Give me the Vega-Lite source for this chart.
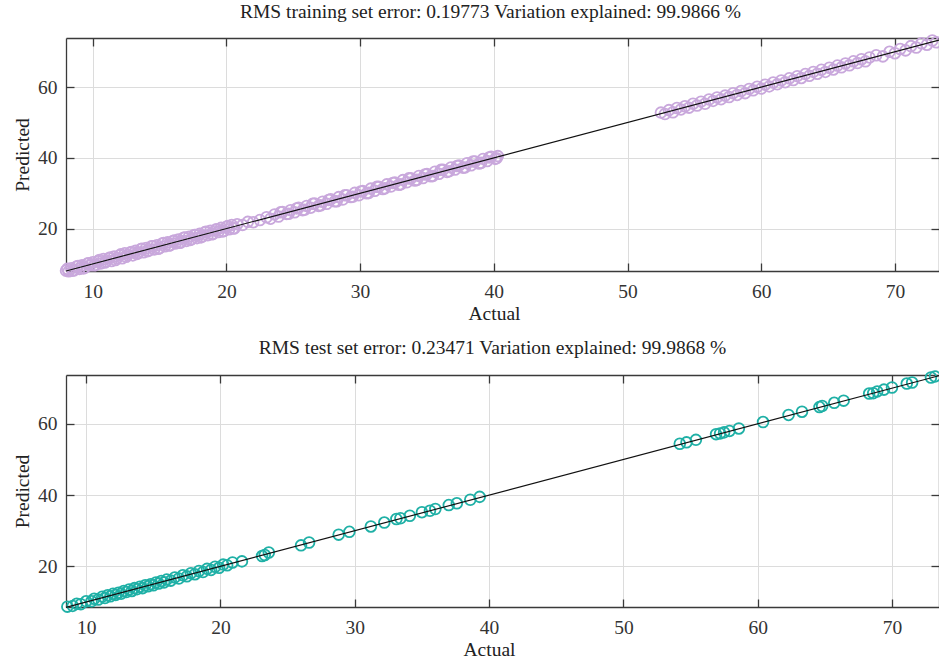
{
  "$schema": "https://vega.github.io/schema/vega-lite/v6.json",
  "autosize": {"type": "pad"},
  "padding": {"left": 12, "top": 2, "right": 0, "bottom": 0},
  "background": "white",
  "config": {
    "view": {"stroke": null},
    "font": "Liberation Serif",
    "axis": {
      "labelFont": "Liberation Serif",
      "labelFontSize": 19.5,
      "labelColor": "#333333",
      "titleFont": "Liberation Serif",
      "titleFontSize": 19.5,
      "titleFontWeight": "normal",
      "titleColor": "#222222",
      "domainColor": "#3a3a3a",
      "domainWidth": 1.3,
      "tickColor": "#3a3a3a",
      "tickWidth": 1.3,
      "tickSize": -8,
      "gridColor": "#dcdcdc",
      "gridWidth": 1
    },
    "title": {
      "font": "Liberation Serif",
      "fontSize": 19.5,
      "fontWeight": "normal",
      "color": "#222222",
      "anchor": "middle",
      "frame": "group",
      "offset": 9
    }
  },
  "datasets": {
    "train": [
      {"actual": 8.0, "predicted": 8.1}, {"actual": 8.2, "predicted": 7.9}, {"actual": 8.4, "predicted": 8.8},
      {"actual": 8.6, "predicted": 8.2}, {"actual": 8.8, "predicted": 9.3}, {"actual": 9.0, "predicted": 8.6},
      {"actual": 9.2, "predicted": 9.6}, {"actual": 9.4, "predicted": 8.9}, {"actual": 9.6, "predicted": 10.1},
      {"actual": 9.8, "predicted": 9.6}, {"actual": 10.0, "predicted": 10.5}, {"actual": 10.2, "predicted": 9.7},
      {"actual": 10.4, "predicted": 10.8}, {"actual": 10.6, "predicted": 10.1}, {"actual": 10.8, "predicted": 11.4},
      {"actual": 11.0, "predicted": 10.7}, {"actual": 11.2, "predicted": 11.6}, {"actual": 11.4, "predicted": 10.8},
      {"actual": 11.6, "predicted": 12.1}, {"actual": 11.8, "predicted": 11.6}, {"actual": 12.0, "predicted": 12.4},
      {"actual": 12.2, "predicted": 11.6}, {"actual": 12.4, "predicted": 13.0}, {"actual": 12.6, "predicted": 12.5},
      {"actual": 12.8, "predicted": 13.2}, {"actual": 13.0, "predicted": 12.4}, {"actual": 13.2, "predicted": 13.7},
      {"actual": 13.4, "predicted": 13.1}, {"actual": 13.6, "predicted": 14.2}, {"actual": 13.8, "predicted": 13.3},
      {"actual": 14.0, "predicted": 14.5}, {"actual": 14.2, "predicted": 13.8}, {"actual": 14.4, "predicted": 15.0},
      {"actual": 14.6, "predicted": 14.1}, {"actual": 14.8, "predicted": 15.3}, {"actual": 15.0, "predicted": 14.5},
      {"actual": 15.2, "predicted": 15.8}, {"actual": 15.4, "predicted": 15.0}, {"actual": 15.6, "predicted": 16.1},
      {"actual": 15.8, "predicted": 15.3}, {"actual": 16.0, "predicted": 16.5}, {"actual": 16.2, "predicted": 15.8},
      {"actual": 16.4, "predicted": 16.9}, {"actual": 16.6, "predicted": 16.1}, {"actual": 16.8, "predicted": 17.4},
      {"actual": 17.0, "predicted": 16.5}, {"actual": 17.2, "predicted": 17.7}, {"actual": 17.4, "predicted": 17.0},
      {"actual": 17.6, "predicted": 18.2}, {"actual": 17.8, "predicted": 17.3}, {"actual": 18.0, "predicted": 18.5},
      {"actual": 18.2, "predicted": 17.8}, {"actual": 18.4, "predicted": 19.0}, {"actual": 18.6, "predicted": 18.1},
      {"actual": 18.8, "predicted": 19.4}, {"actual": 19.0, "predicted": 18.5}, {"actual": 19.2, "predicted": 19.7},
      {"actual": 19.4, "predicted": 19.0}, {"actual": 19.6, "predicted": 20.2}, {"actual": 19.8, "predicted": 19.3},
      {"actual": 20.0, "predicted": 20.5}, {"actual": 20.2, "predicted": 19.8}, {"actual": 20.4, "predicted": 21.0},
      {"actual": 20.6, "predicted": 20.1}, {"actual": 20.8, "predicted": 21.2}, {"actual": 21.2, "predicted": 21.0},
      {"actual": 8.1, "predicted": 8.6}, {"actual": 8.5, "predicted": 8.1}, {"actual": 8.9, "predicted": 9.4},
      {"actual": 9.3, "predicted": 8.7}, {"actual": 9.7, "predicted": 10.2}, {"actual": 10.1, "predicted": 9.6},
      {"actual": 10.5, "predicted": 11.1}, {"actual": 10.9, "predicted": 10.4}, {"actual": 11.3, "predicted": 11.8},
      {"actual": 11.7, "predicted": 11.1}, {"actual": 12.1, "predicted": 12.7}, {"actual": 12.5, "predicted": 12.0},
      {"actual": 12.9, "predicted": 13.4}, {"actual": 13.3, "predicted": 12.8}, {"actual": 13.7, "predicted": 14.3},
      {"actual": 14.1, "predicted": 13.6}, {"actual": 14.5, "predicted": 15.0}, {"actual": 14.9, "predicted": 14.3},
      {"actual": 15.3, "predicted": 15.9}, {"actual": 15.7, "predicted": 15.2}, {"actual": 16.1, "predicted": 16.6},
      {"actual": 16.5, "predicted": 16.0}, {"actual": 16.9, "predicted": 17.5}, {"actual": 17.3, "predicted": 16.8},
      {"actual": 17.7, "predicted": 18.2}, {"actual": 18.1, "predicted": 17.5}, {"actual": 18.5, "predicted": 19.1},
      {"actual": 18.9, "predicted": 18.4}, {"actual": 19.3, "predicted": 19.8}, {"actual": 19.7, "predicted": 19.2},
      {"actual": 20.1, "predicted": 20.7}, {"actual": 20.5, "predicted": 20.0},
      {"actual": 21.6, "predicted": 21.9}, {"actual": 22.0, "predicted": 21.8}, {"actual": 22.5, "predicted": 22.4},
      {"actual": 23.0, "predicted": 23.2}, {"actual": 23.3, "predicted": 22.8}, {"actual": 23.6, "predicted": 24.0},
      {"actual": 23.9, "predicted": 23.4}, {"actual": 24.2, "predicted": 24.7}, {"actual": 24.5, "predicted": 24.1},
      {"actual": 24.8, "predicted": 25.2}, {"actual": 25.1, "predicted": 24.6}, {"actual": 25.4, "predicted": 25.9},
      {"actual": 25.7, "predicted": 25.2}, {"actual": 26.0, "predicted": 26.4}, {"actual": 26.3, "predicted": 25.9},
      {"actual": 26.6, "predicted": 27.1}, {"actual": 26.9, "predicted": 26.4}, {"actual": 27.2, "predicted": 27.6},
      {"actual": 27.5, "predicted": 27.0}, {"actual": 27.8, "predicted": 28.3}, {"actual": 28.1, "predicted": 27.7},
      {"actual": 28.4, "predicted": 28.9}, {"actual": 28.7, "predicted": 28.2}, {"actual": 29.0, "predicted": 29.4},
      {"actual": 29.3, "predicted": 28.9}, {"actual": 29.6, "predicted": 30.1}, {"actual": 29.9, "predicted": 29.4},
      {"actual": 30.2, "predicted": 30.6}, {"actual": 30.5, "predicted": 30.0}, {"actual": 30.8, "predicted": 31.3},
      {"actual": 31.1, "predicted": 30.7}, {"actual": 31.4, "predicted": 31.8}, {"actual": 31.7, "predicted": 31.2},
      {"actual": 32.0, "predicted": 32.5}, {"actual": 32.3, "predicted": 31.9}, {"actual": 32.6, "predicted": 33.0},
      {"actual": 32.9, "predicted": 32.4}, {"actual": 33.2, "predicted": 33.7}, {"actual": 33.5, "predicted": 33.1},
      {"actual": 33.8, "predicted": 34.2}, {"actual": 34.1, "predicted": 33.6}, {"actual": 34.4, "predicted": 34.9},
      {"actual": 34.7, "predicted": 34.3}, {"actual": 35.0, "predicted": 35.4}, {"actual": 35.3, "predicted": 34.8},
      {"actual": 35.6, "predicted": 36.1}, {"actual": 35.9, "predicted": 35.5}, {"actual": 36.2, "predicted": 36.6},
      {"actual": 36.5, "predicted": 36.0}, {"actual": 36.8, "predicted": 37.3}, {"actual": 37.1, "predicted": 36.7},
      {"actual": 37.4, "predicted": 37.8}, {"actual": 37.7, "predicted": 37.2}, {"actual": 38.0, "predicted": 38.5},
      {"actual": 38.3, "predicted": 37.9}, {"actual": 38.6, "predicted": 39.0}, {"actual": 38.9, "predicted": 38.4},
      {"actual": 39.2, "predicted": 39.7}, {"actual": 39.5, "predicted": 39.1}, {"actual": 39.8, "predicted": 40.3},
      {"actual": 40.1, "predicted": 39.7}, {"actual": 40.3, "predicted": 40.5},
      {"actual": 24.05, "predicted": 24.6}, {"actual": 24.65, "predicted": 24.2}, {"actual": 25.25, "predicted": 25.7},
      {"actual": 25.85, "predicted": 25.3}, {"actual": 26.45, "predicted": 27.0}, {"actual": 27.05, "predicted": 26.6},
      {"actual": 27.65, "predicted": 28.1}, {"actual": 28.25, "predicted": 27.7}, {"actual": 28.85, "predicted": 29.4},
      {"actual": 29.45, "predicted": 29.0}, {"actual": 30.05, "predicted": 30.5}, {"actual": 30.65, "predicted": 30.1},
      {"actual": 31.25, "predicted": 31.8}, {"actual": 31.85, "predicted": 31.4}, {"actual": 32.45, "predicted": 32.9},
      {"actual": 33.05, "predicted": 32.5}, {"actual": 33.65, "predicted": 34.2}, {"actual": 34.25, "predicted": 33.8},
      {"actual": 34.85, "predicted": 35.3}, {"actual": 35.45, "predicted": 34.9}, {"actual": 36.05, "predicted": 36.6},
      {"actual": 36.65, "predicted": 36.2}, {"actual": 37.25, "predicted": 37.7}, {"actual": 37.85, "predicted": 37.3},
      {"actual": 38.45, "predicted": 39.0}, {"actual": 39.05, "predicted": 38.6}, {"actual": 39.65, "predicted": 40.1},
      {"actual": 40.2, "predicted": 39.9},
      {"actual": 52.5, "predicted": 52.8}, {"actual": 52.8, "predicted": 52.4}, {"actual": 53.1, "predicted": 53.5},
      {"actual": 53.4, "predicted": 52.9}, {"actual": 53.7, "predicted": 54.1}, {"actual": 54.0, "predicted": 53.7},
      {"actual": 54.3, "predicted": 54.6}, {"actual": 54.6, "predicted": 54.2}, {"actual": 54.9, "predicted": 55.3},
      {"actual": 55.2, "predicted": 54.8}, {"actual": 55.5, "predicted": 55.9}, {"actual": 55.8, "predicted": 55.3},
      {"actual": 56.1, "predicted": 56.5}, {"actual": 56.4, "predicted": 56.1}, {"actual": 56.7, "predicted": 57.1},
      {"actual": 57.0, "predicted": 56.6}, {"actual": 57.3, "predicted": 57.6}, {"actual": 57.6, "predicted": 57.2},
      {"actual": 57.9, "predicted": 58.3}, {"actual": 58.2, "predicted": 57.8}, {"actual": 58.5, "predicted": 58.9},
      {"actual": 58.8, "predicted": 58.3}, {"actual": 59.1, "predicted": 59.5}, {"actual": 59.4, "predicted": 59.1},
      {"actual": 59.7, "predicted": 60.1}, {"actual": 60.0, "predicted": 59.6}, {"actual": 60.3, "predicted": 60.7},
      {"actual": 60.6, "predicted": 60.2}, {"actual": 60.9, "predicted": 61.3}, {"actual": 61.2, "predicted": 60.8},
      {"actual": 61.5, "predicted": 61.9}, {"actual": 61.8, "predicted": 61.4}, {"actual": 62.1, "predicted": 62.5},
      {"actual": 62.4, "predicted": 62.0}, {"actual": 62.7, "predicted": 63.1}, {"actual": 63.0, "predicted": 62.6},
      {"actual": 63.3, "predicted": 63.7}, {"actual": 63.6, "predicted": 63.2}, {"actual": 63.9, "predicted": 64.3},
      {"actual": 64.2, "predicted": 63.8}, {"actual": 64.5, "predicted": 64.9}, {"actual": 64.8, "predicted": 64.3},
      {"actual": 65.1, "predicted": 65.5}, {"actual": 65.4, "predicted": 65.0}, {"actual": 65.7, "predicted": 66.1},
      {"actual": 66.0, "predicted": 65.6}, {"actual": 66.3, "predicted": 66.7}, {"actual": 66.6, "predicted": 66.2},
      {"actual": 66.9, "predicted": 67.3}, {"actual": 67.2, "predicted": 66.8}, {"actual": 67.5, "predicted": 67.9},
      {"actual": 67.8, "predicted": 67.3}, {"actual": 68.1, "predicted": 68.4}, {"actual": 68.6, "predicted": 69.0},
      {"actual": 69.1, "predicted": 68.7}, {"actual": 69.6, "predicted": 70.0}, {"actual": 70.0, "predicted": 69.6},
      {"actual": 70.4, "predicted": 70.8}, {"actual": 70.8, "predicted": 70.4}, {"actual": 71.2, "predicted": 71.6},
      {"actual": 71.6, "predicted": 71.2}, {"actual": 72.0, "predicted": 72.4}, {"actual": 72.4, "predicted": 72.0},
      {"actual": 72.8, "predicted": 73.2}, {"actual": 73.1, "predicted": 72.7}
    ],
    "test": [
      {"actual": 8.6, "predicted": 8.7}, {"actual": 9.0, "predicted": 8.9}, {"actual": 9.3, "predicted": 9.5},
      {"actual": 9.6, "predicted": 9.4}, {"actual": 10.0, "predicted": 10.2}, {"actual": 10.4, "predicted": 10.2},
      {"actual": 10.6, "predicted": 10.9}, {"actual": 10.9, "predicted": 10.7}, {"actual": 11.2, "predicted": 11.5},
      {"actual": 11.4, "predicted": 11.1}, {"actual": 11.6, "predicted": 11.9}, {"actual": 11.8, "predicted": 11.6},
      {"actual": 12.0, "predicted": 12.3}, {"actual": 12.2, "predicted": 12.0}, {"actual": 12.4, "predicted": 12.6},
      {"actual": 12.6, "predicted": 12.3}, {"actual": 12.8, "predicted": 13.1}, {"actual": 13.0, "predicted": 12.8},
      {"actual": 13.2, "predicted": 13.5}, {"actual": 13.4, "predicted": 13.1}, {"actual": 13.6, "predicted": 13.9},
      {"actual": 13.8, "predicted": 13.6}, {"actual": 14.0, "predicted": 14.3}, {"actual": 14.2, "predicted": 13.9},
      {"actual": 14.4, "predicted": 14.7}, {"actual": 14.6, "predicted": 14.4}, {"actual": 14.8, "predicted": 15.0},
      {"actual": 15.0, "predicted": 14.7}, {"actual": 15.2, "predicted": 15.5}, {"actual": 15.4, "predicted": 15.2},
      {"actual": 15.6, "predicted": 15.9}, {"actual": 15.8, "predicted": 15.5}, {"actual": 16.0, "predicted": 16.3},
      {"actual": 16.3, "predicted": 16.0}, {"actual": 16.6, "predicted": 16.9}, {"actual": 16.9, "predicted": 16.6},
      {"actual": 17.2, "predicted": 17.5}, {"actual": 17.5, "predicted": 17.2}, {"actual": 17.8, "predicted": 18.1},
      {"actual": 18.1, "predicted": 17.8}, {"actual": 18.4, "predicted": 18.7}, {"actual": 18.7, "predicted": 18.4},
      {"actual": 19.0, "predicted": 19.3}, {"actual": 19.3, "predicted": 19.0}, {"actual": 19.6, "predicted": 19.9},
      {"actual": 19.9, "predicted": 19.6}, {"actual": 20.2, "predicted": 20.5}, {"actual": 20.5, "predicted": 20.3},
      {"actual": 20.9, "predicted": 21.1}, {"actual": 21.6, "predicted": 21.4},
      {"actual": 23.1, "predicted": 22.9}, {"actual": 23.3, "predicted": 23.2}, {"actual": 23.6, "predicted": 23.9},
      {"actual": 26.0, "predicted": 25.9}, {"actual": 26.6, "predicted": 26.7}, {"actual": 28.8, "predicted": 28.9},
      {"actual": 29.6, "predicted": 29.7}, {"actual": 31.2, "predicted": 31.2}, {"actual": 32.2, "predicted": 32.3},
      {"actual": 33.1, "predicted": 33.3}, {"actual": 33.4, "predicted": 33.5}, {"actual": 34.1, "predicted": 34.2},
      {"actual": 35.0, "predicted": 35.2}, {"actual": 35.6, "predicted": 35.6}, {"actual": 36.0, "predicted": 36.1},
      {"actual": 37.0, "predicted": 37.2}, {"actual": 37.6, "predicted": 37.7}, {"actual": 38.6, "predicted": 38.7},
      {"actual": 39.3, "predicted": 39.5},
      {"actual": 54.2, "predicted": 54.4}, {"actual": 54.7, "predicted": 54.8}, {"actual": 55.4, "predicted": 55.5},
      {"actual": 56.9, "predicted": 57.1}, {"actual": 57.2, "predicted": 57.3}, {"actual": 57.5, "predicted": 57.6},
      {"actual": 57.9, "predicted": 58.0}, {"actual": 58.6, "predicted": 58.7}, {"actual": 60.4, "predicted": 60.5},
      {"actual": 62.3, "predicted": 62.5}, {"actual": 63.3, "predicted": 63.4}, {"actual": 64.6, "predicted": 64.7},
      {"actual": 64.8, "predicted": 65.0}, {"actual": 65.7, "predicted": 65.9}, {"actual": 66.4, "predicted": 66.5},
      {"actual": 68.3, "predicted": 68.5}, {"actual": 68.6, "predicted": 68.6}, {"actual": 68.9, "predicted": 69.1},
      {"actual": 69.4, "predicted": 69.6}, {"actual": 70.0, "predicted": 70.2}, {"actual": 71.1, "predicted": 71.3},
      {"actual": 71.5, "predicted": 71.6}, {"actual": 72.9, "predicted": 73.0}, {"actual": 73.2, "predicted": 73.3}
    ],
    "fitTrain": [{"actual": 8.0, "predicted": 8.0}, {"actual": 73.3, "predicted": 73.3}],
    "fitTest": [{"actual": 8.5, "predicted": 8.5}, {"actual": 73.5, "predicted": 73.5}]
  },
  "spacing": 14,
  "vconcat": [
    {
      "width": 873,
      "height": 233,
      "title": {"text": "RMS training set error: 0.19773 Variation explained: 99.9866 %", "dx": -12, "font": "Liberation Serif", "fontSize": 19.5, "fontWeight": "normal"},
      "layer": [
        {
          "data": {"name": "train"},
          "mark": {"type": "point", "shape": "circle", "filled": false, "size": 115, "strokeWidth": 1.8, "color": "#c9a8dc", "opacity": 1},
          "encoding": {
            "x": {"field": "actual", "type": "quantitative",
                  "scale": {"domain": [8, 73.3], "nice": false, "zero": false},
                  "axis": {"title": "Actual", "titleFont": "Liberation Serif", "values": [10, 20, 30, 40, 50, 60, 70], "labelPadding": 19, "titlePadding": 4, "titleX": 428}},
            "y": {"field": "predicted", "type": "quantitative",
                  "scale": {"domain": [8, 73.9], "nice": false, "zero": false},
                  "axis": {"title": "Predicted", "titleFont": "Liberation Serif", "values": [20, 40, 60], "labelPadding": 17, "titlePadding": 5}}
          }
        },
        {
          "data": {"name": "fitTrain"},
          "mark": {"type": "line", "color": "#111111", "strokeWidth": 1.2},
          "encoding": {
            "x": {"field": "actual", "type": "quantitative",
                  "axis": {"orient": "top", "title": null, "labels": false, "grid": false, "values": [10, 20, 30, 40, 50, 60, 70]}},
            "y": {"field": "predicted", "type": "quantitative",
                  "axis": {"orient": "right", "title": null, "labels": false, "grid": false, "values": [20, 40, 60]}}
          }
        }
      ],
      "resolve": {"axis": {"x": "independent", "y": "independent"}}
    },
    {
      "width": 873,
      "height": 232,
      "title": {"text": "RMS test set error: 0.23471 Variation explained: 99.9868 %", "dx": -10, "font": "Liberation Serif", "fontSize": 19.5, "fontWeight": "normal"},
      "layer": [
        {
          "data": {"name": "test"},
          "mark": {"type": "point", "shape": "circle", "filled": false, "size": 115, "strokeWidth": 1.8, "color": "#1fb0a6", "opacity": 1},
          "encoding": {
            "x": {"field": "actual", "type": "quantitative",
                  "scale": {"domain": [8.5, 73.5], "nice": false, "zero": false},
                  "axis": {"title": "Actual", "titleFont": "Liberation Serif", "values": [10, 20, 30, 40, 50, 60, 70], "labelPadding": 19, "titlePadding": 4, "titleX": 423}},
            "y": {"field": "predicted", "type": "quantitative",
                  "scale": {"domain": [8.6, 73.7], "nice": false, "zero": false},
                  "axis": {"title": "Predicted", "titleFont": "Liberation Serif", "values": [20, 40, 60], "labelPadding": 17, "titlePadding": 5}}
          }
        },
        {
          "data": {"name": "fitTest"},
          "mark": {"type": "line", "color": "#111111", "strokeWidth": 1.2},
          "encoding": {
            "x": {"field": "actual", "type": "quantitative",
                  "axis": {"orient": "top", "title": null, "labels": false, "grid": false, "values": [10, 20, 30, 40, 50, 60, 70]}},
            "y": {"field": "predicted", "type": "quantitative",
                  "axis": {"orient": "right", "title": null, "labels": false, "grid": false, "values": [20, 40, 60]}}
          }
        }
      ],
      "resolve": {"axis": {"x": "independent", "y": "independent"}}
    }
  ]
}
